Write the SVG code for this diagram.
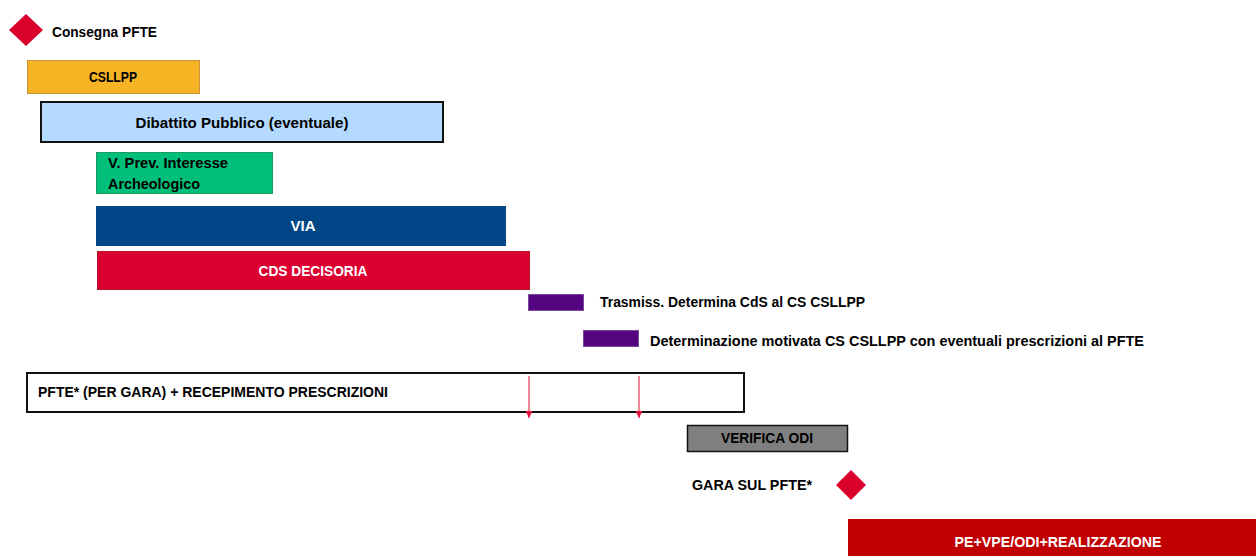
<svg xmlns="http://www.w3.org/2000/svg" width="1256" height="556" viewBox="0 0 1256 556">
<defs>
<marker id="ah" markerWidth="7" markerHeight="7" refX="7" refY="3.5" orient="auto" markerUnits="userSpaceOnUse" viewBox="0 0 7 7">
<path d="M0,0 L7,3.5 L0,7 Z" fill="#e0103a"/>
</marker>
<style>
text{font-family:"Liberation Sans","Noto Sans",Arial,sans-serif;font-weight:bold;font-size:14px;fill:#000}
.w{fill:#fff}
.c{text-anchor:middle}
</style>
</defs>
<rect width="1256" height="556" fill="#fff"/>
<g id="consegna">
<polygon points="26,14 43,30 26,46 9,30" fill="#d9002b"/>
<text x="52" y="37" textLength="105" lengthAdjust="spacingAndGlyphs">Consegna PFTE</text>
</g>
<g id="csllpp">
<rect x="27.5" y="60.5" width="172" height="33" fill="#f6b324" stroke="#c9933a" stroke-width="1"/>
<text x="113" y="82" class="c" textLength="48" lengthAdjust="spacingAndGlyphs">CSLLPP</text>
</g>
<g id="dibattito">
<rect x="41" y="102" width="402" height="40" fill="#b5daff" stroke="#111" stroke-width="2"/>
<text x="242" y="128" class="c" textLength="213" lengthAdjust="spacingAndGlyphs">Dibattito Pubblico (eventuale)</text>
</g>
<g id="vprev">
<rect x="96.5" y="152.5" width="176" height="41" fill="#00bf7b" stroke="#1f9a5f" stroke-width="1"/>
<text x="108" y="168" textLength="120" lengthAdjust="spacingAndGlyphs">V. Prev. Interesse</text>
<text x="108" y="189" textLength="92" lengthAdjust="spacingAndGlyphs">Archeologico</text>
</g>
<g id="via">
<rect x="96" y="206" width="410" height="40" fill="#004586"/>
<text x="303" y="231" class="c w" textLength="25" lengthAdjust="spacingAndGlyphs">VIA</text>
</g>
<g id="cds">
<rect x="97.5" y="251.5" width="432" height="38" fill="#dc0030" stroke="#b0102a" stroke-width="1"/>
<text x="313" y="276" class="c w" textLength="109" lengthAdjust="spacingAndGlyphs">CDS DECISORIA</text>
</g>
<g id="trasmiss">
<rect x="528.5" y="294.5" width="55" height="16" fill="#55057f" stroke="#7a4a9a" stroke-width="1"/>
<text x="600" y="307" textLength="265" lengthAdjust="spacingAndGlyphs">Trasmiss. Determina CdS al CS CSLLPP</text>
</g>
<g id="determinazione">
<rect x="583.5" y="330.5" width="55" height="16" fill="#55057f" stroke="#7a4a9a" stroke-width="1"/>
<text x="650" y="346" textLength="494" lengthAdjust="spacingAndGlyphs">Determinazione motivata CS CSLLPP con eventuali prescrizioni al PFTE</text>
</g>
<g id="pfte">
<rect x="27" y="373" width="717" height="39" fill="#fff" stroke="#111" stroke-width="2"/>
<text x="38" y="397" textLength="350" lengthAdjust="spacingAndGlyphs">PFTE* (PER GARA) + RECEPIMENTO PRESCRIZIONI</text>
</g>
<g id="verifica">
<rect x="687.5" y="425.5" width="160" height="26" fill="#7f7f7f" stroke="#111" stroke-width="1.5"/>
<text x="767" y="443" class="c" textLength="92" lengthAdjust="spacingAndGlyphs">VERIFICA ODI</text>
</g>
<g id="gara">
<text x="692" y="490" textLength="120" lengthAdjust="spacingAndGlyphs">GARA SUL PFTE*</text>
<polygon points="851,470 866,485 851,500 836,485" fill="#d9002b"/>
</g>
<g id="realizzazione">
<rect x="848" y="519" width="408" height="37" fill="#c00000"/>
<text x="1058" y="547" class="c w" textLength="207" lengthAdjust="spacingAndGlyphs">PE+VPE/ODI+REALIZZAZIONE</text>
</g>
<g id="connectors" stroke="#e0103a" stroke-width="1" fill="none">
<line x1="529" y1="376" x2="529" y2="418" marker-end="url(#ah)"/>
<line x1="639" y1="376" x2="639" y2="418" marker-end="url(#ah)"/>
</g>
</svg>
